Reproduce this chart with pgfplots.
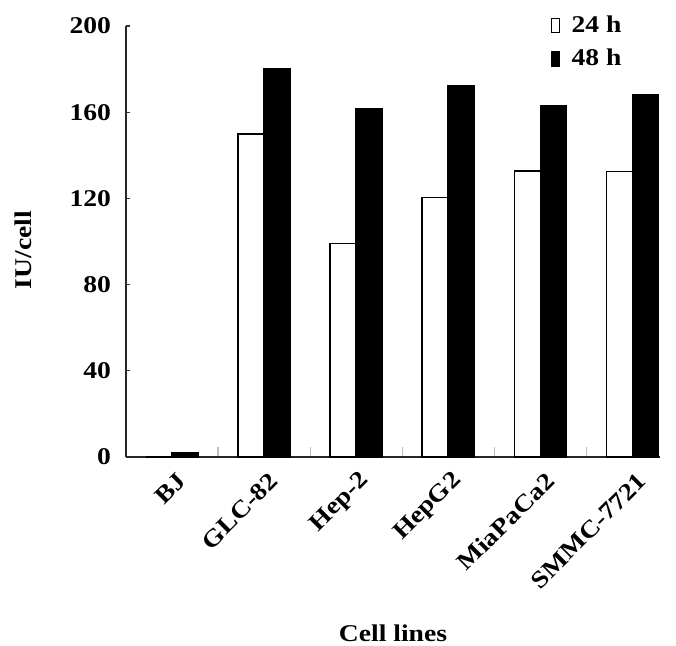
\documentclass[border=0pt]{standalone}
\usepackage{fontspec}
\setmainfont{Liberation Serif}[FakeStretch=1.15]
\usepackage{pgfplots}
\pgfplotsset{compat=1.18}
\begin{document}
\begin{tikzpicture}
\path[use as bounding box] (-63pt,-94pt) rectangle (275pt,228.5pt);
\begin{axis}[
  scale only axis,
  width=267pt, height=215.5pt,
  xmin=-0.5, xmax=5.3,
  ymin=0, ymax=200,
  axis x line*=bottom, axis y line*=left,
  axis line style={line width=0.9pt, black!85},
  xtick={0,...,5},
  xticklabels={BJ,GLC-82,Hep-2,HepG2,MiaPaCa2,SMMC-7721},
  major x tick style={draw=none},
  minor xtick={0.5,1.5,2.5,3.5,4.5},
  minor x tick style={black!25, line width=0.6pt},
  minor tick length=5pt,
  ytick={0,40,...,200},
  tick align=inside,
  major tick length=2pt,
  y tick style={black!80, line width=0.6pt},
  tick label style={font=\fontsize{12}{14}\selectfont\bfseries},
  /pgf/number format/assume math mode=true,
  yticklabel style={xshift=-4pt},
  xticklabel style={xshift=5pt, yshift=-10pt, rotate=45, anchor=east, inner sep=0pt},
  ylabel={IU/cell},
  xlabel={Cell lines},
  label style={font=\fontsize{12}{14}\selectfont\bfseries},
  ylabel style={at={(axis description cs:-0.192,0.48)}, anchor=center},
  xlabel style={at={(axis description cs:0.5,-0.408)}, anchor=center},
  legend style={at={(axis description cs:0.795,1.03)}, anchor=north west, draw=none, fill=none,
    font=\fontsize{12}{14}\selectfont\bfseries, row sep=5pt, inner sep=0pt,
    nodes={inner sep=1pt}},
  legend cell align=left,
  legend image code/.code={\draw[#1, line width=0.6pt] (0pt,-3.5pt) rectangle (4pt,3.5pt);
    \path[draw=none, fill=none] (0pt,0pt) (9pt,0pt);},
  clip=false,
]
\addplot[ybar, bar width=0.283, bar shift=-0.1415, fill=white, draw=black, line width=0.75pt]
  coordinates {(0,0) (1,149.8) (2,99.1) (3,120.4) (4,132.7) (5,132.4)};
\addlegendentry{24 h}
\addplot[ybar, bar width=0.283, bar shift=0.1415, fill=black, draw=black, line width=0.75pt]
  coordinates {(0,1.9) (1,180.3) (2,161.8) (3,172.4) (4,162.8) (5,168.3)};
\addlegendentry{48 h}
\end{axis}
\end{tikzpicture}
\end{document}
